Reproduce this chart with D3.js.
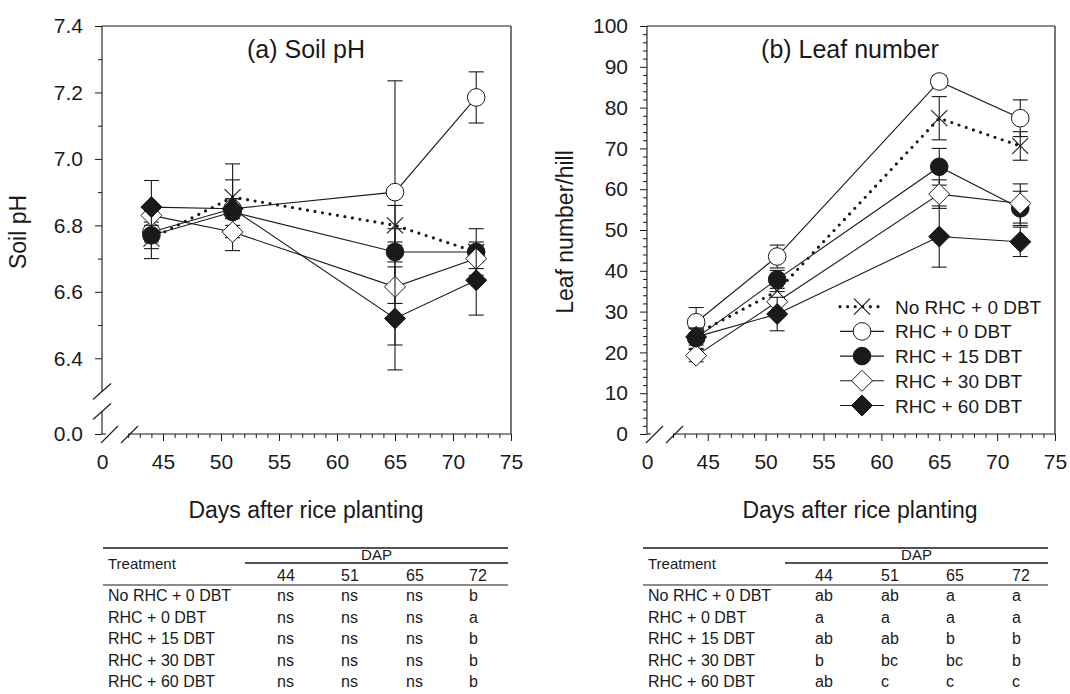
<!DOCTYPE html>
<html><head><meta charset="utf-8">
<script src="https://cdn.jsdelivr.net/npm/d3@7"></script>
<style>
body{margin:0;background:#fff;}
text{font-family:"Liberation Sans",Arial,sans-serif;fill:#1a1a1a;}
</style>
</head><body>
<svg id="c" width="1070" height="694"></svg>
<script>
// ---------- data ----------
const days = [44, 51, 65, 72];
const seriesNames = ["No RHC + 0 DBT", "RHC + 0 DBT", "RHC + 15 DBT", "RHC + 30 DBT", "RHC + 60 DBT"];
const seriesMarkers = ["x", "circleOpen", "circleFilled", "diamondOpen", "diamondFilled"];

const phMean = [
  [6.76, 6.885, 6.80, 6.72],
  [6.78, 6.85, 6.90, 7.185],
  [6.77, 6.84, 6.72, 6.72],
  [6.83, 6.78, 6.615, 6.70],
  [6.855, 6.85, 6.52, 6.635]
];
const phErr = [
  [0.03, 0.10, 0.06, 0.03],
  [0.03, 0.087, 0.335, 0.077],
  [0.07, 0.04, 0.03, 0.07],
  [0.03, 0.056, 0.175, 0.03],
  [0.08, 0.03, 0.155, 0.105]
];
const leafMean = [
  [24.5, 35.0, 77.4, 70.6],
  [27.4, 43.5, 86.4, 77.4],
  [23.5, 37.9, 65.5, 55.3],
  [19.2, 32.4, 58.8, 56.5],
  [23.8, 29.4, 48.4, 47.1]
];
const leafErr = [
  [2.0, 2.5, 5.3, 3.5],
  [3.6, 2.8, 1.5, 4.5],
  [2.5, 2.2, 4.5, 4.2],
  [1.5, 2.5, 3.5, 4.8],
  [2.0, 4.1, 7.5, 3.6]
];

const xMajorTicks = [45, 50, 55, 60, 65, 70, 75];
const phMajorTicks = [6.4, 6.6, 6.8, 7.0, 7.2, 7.4];
const phMinorTicks = [6.5, 6.7, 6.9, 7.1, 7.3];
const leafMajorTicks = [0, 10, 20, 30, 40, 50, 60, 70, 80, 90, 100];

const tableDays = ["44", "51", "65", "72"];
const phLetters = [
  ["ns", "ns", "ns", "b"],
  ["ns", "ns", "ns", "a"],
  ["ns", "ns", "ns", "b"],
  ["ns", "ns", "ns", "b"],
  ["ns", "ns", "ns", "b"]
];
const leafLetters = [
  ["ab", "ab", "a", "a"],
  ["a", "a", "a", "a"],
  ["ab", "ab", "b", "b"],
  ["b", "bc", "bc", "b"],
  ["ab", "c", "c", "c"]
];

// ---------- drawing ----------
const svg = d3.select("#c");
const ink = "#1a1a1a";

function drawMarker(g, type, cx, cy) {
  if (type.startsWith("circle")) {
    g.append("circle").attr("cx", cx).attr("cy", cy).attr("r", 8.8)
      .attr("fill", type === "circleOpen" ? "#fff" : ink)
      .attr("stroke", ink).attr("stroke-width", 1);
  } else if (type === "x") {
    g.append("path").attr("d", "M-8,-8L8,8M-8,8L8,-8").attr("transform", `translate(${cx},${cy})`)
      .attr("fill", "none").attr("stroke", ink).attr("stroke-width", 1.1);
  } else {
    g.append("path").attr("d", "M0,-10.5L10.5,0L0,10.5L-10.5,0Z").attr("transform", `translate(${cx},${cy})`)
      .attr("fill", type === "diamondOpen" ? "#fff" : ink)
      .attr("stroke", ink).attr("stroke-width", 1);
  }
}
function lineStyle(sel, i) {
  sel.attr("fill", "none").attr("stroke", ink);
  if (i === 0) sel.attr("stroke-width", 3.2).attr("stroke-dasharray", "0 7.6").attr("stroke-linecap", "round");
  else sel.attr("stroke-width", 1.1);
}
function seg(g, x1, y1, x2, y2, w) {
  g.append("line").attr("x1", x1).attr("y1", y1).attr("x2", x2).attr("y2", y2)
    .attr("stroke", ink).attr("stroke-width", w || 1.1);
}

function panel(cfg) {
  const g = svg.append("g");
  const x = d3.scaleLinear().domain([0, 42, 75]).range(cfg.xr);
  const y = d3.scaleLinear().domain(cfg.yd).range(cfg.yr);
  const x0 = x(0), x75 = x(75), yTop = cfg.yr[cfg.yr.length - 1], yBot = cfg.yr[0];

  // frame (top & right)
  seg(g, x0, yTop, x75, yTop, 1.2);
  seg(g, x75, yTop, x75, yBot, 1.2);

  // y axis line (with optional break)
  if (cfg.yBreak) {
    const yb = y(cfg.yd[1]);
    seg(g, x0, yTop, x0, yb);
    seg(g, x0, yb + 20, x0, yBot);
    seg(g, x0 - 9, yb + 8, x0 + 9, yb - 8);
    seg(g, x0 - 9, yb + 28, x0 + 9, yb + 12);
  } else {
    seg(g, x0, yTop, x0, yBot);
  }
  // x axis line with break
  seg(g, x0, yBot, x0 + 4, yBot);
  seg(g, x(42), yBot, x75, yBot);
  seg(g, x0 - 1, yBot + 9, x0 + 16, yBot - 8);
  seg(g, x0 + 19, yBot + 9, x0 + 36, yBot - 8);

  // y ticks
  const yAx = d3.axisLeft(y).tickValues(cfg.yMajor).tickSize(7).tickPadding(12).tickFormat(cfg.yFmt);
  const ya = g.append("g").attr("transform", `translate(${x0},0)`).call(yAx);
  ya.select(".domain").remove();
  ya.selectAll("line").attr("stroke", ink);
  ya.selectAll("text").style("font-size", "21px").attr("fill", ink);
  const yMin = d3.axisLeft(y).tickValues(cfg.yMinor).tickSize(4).tickFormat("");
  const ym = g.append("g").attr("transform", `translate(${x0},0)`).call(yMin);
  ym.select(".domain").remove();
  ym.selectAll("line").attr("stroke", ink);
  if (cfg.yZero) {
    const yz = g.append("g").attr("transform", `translate(${x0},0)`)
      .call(d3.axisLeft(y).tickValues([0]).tickSize(7).tickPadding(12).tickFormat(cfg.yZero));
    yz.select(".domain").remove();
    yz.selectAll("line").attr("stroke", ink);
    yz.selectAll("text").style("font-size", "21px");
  }

  // x ticks
  const xa = g.append("g").attr("transform", `translate(0,${yBot})`)
    .call(d3.axisBottom(x).tickValues(xMajorTicks).tickSize(7).tickPadding(13));
  xa.select(".domain").remove();
  xa.selectAll("line").attr("stroke", ink);
  xa.selectAll("text").style("font-size", "21px");
  const minorX = d3.range(42, 75).filter(d => d % 5 !== 0);
  const xm = g.append("g").attr("transform", `translate(0,${yBot})`)
    .call(d3.axisBottom(x).tickValues(minorX).tickSize(4).tickFormat(""));
  xm.select(".domain").remove();
  xm.selectAll("line").attr("stroke", ink);
  const xz = g.append("g").attr("transform", `translate(0,${yBot})`)
    .call(d3.axisBottom(x).tickValues([0]).tickSize(0).tickPadding(20));
  xz.select(".domain").remove();
  xz.selectAll("text").style("font-size", "21px");

  // titles
  g.append("text").attr("x", cfg.titleX).attr("y", 58).attr("text-anchor", "middle")
    .style("font-size", "25px").text(cfg.title);
  g.append("text").attr("x", cfg.xTitleX).attr("y", 518).attr("text-anchor", "middle")
    .style("font-size", "23px").text("Days after rice planting");
  g.append("text").attr("transform", `translate(${cfg.yTitleX},${cfg.yTitleY}) rotate(-90)`)
    .attr("text-anchor", "middle").style("font-size", "23px").text(cfg.yTitle);

  // series
  const line = d3.line().x(d => x(d[0])).y(d => y(d[1]));
  cfg.means.forEach((vals, i) => {
    const sg = g.append("g");
    vals.forEach((v, j) => {
      const e = cfg.errs[i][j];
      const cx = x(days[j]);
      seg(sg, cx, y(v - e), cx, y(v + e), 1.1);
      seg(sg, cx - 7.5, y(v + e), cx + 7.5, y(v + e), 1.1);
      seg(sg, cx - 7.5, y(v - e), cx + 7.5, y(v - e), 1.1);
    });
    sg.append("path").datum(vals.map((v, j) => [days[j], v])).attr("d", line).call(lineStyle, i);
    vals.forEach((v, j) => drawMarker(sg, seriesMarkers[i], x(days[j]), y(v)));
  });
  return g;
}

panel({
  xr: [102, 128.2, 511], yd: [0, 6.3, 7.4], yr: [434, 391.5, 26], yBreak: true,
  yMajor: phMajorTicks, yMinor: phMinorTicks, yFmt: d3.format(".1f"), yZero: d3.format(".1f"),
  means: phMean, errs: phErr, title: "(a) Soil pH", titleX: 306, xTitleX: 306,
  yTitle: "Soil pH", yTitleX: 26, yTitleY: 232
});
panel({
  xr: [647, 673, 1055], yd: [0, 100], yr: [434, 26], yBreak: false,
  yMajor: leafMajorTicks, yMinor: d3.range(2, 100, 2).filter(d => d % 10 !== 0), yFmt: d3.format("d"), yZero: null,
  means: leafMean, errs: leafErr, title: "(b) Leaf number", titleX: 850, xTitleX: 860,
  yTitle: "Leaf number/hill", yTitleX: 573, yTitleY: 232
});

// legend
const lg = svg.append("g");
seriesNames.forEach((name, i) => {
  const cy = 306.7 + i * 24.7;
  const l = lg.append("line").attr("x1", 840).attr("x2", 884).attr("y1", cy).attr("y2", cy);
  lineStyle(l, i);
  drawMarker(lg, seriesMarkers[i], 862, cy);
  lg.append("text").attr("x", 895).attr("y", cy + 7).style("font-size", "19px").text(name);
});

// tables
function table(ox, colX, x2, letters) {
  const t = svg.append("g");
  seg(t, ox, 548, x2, 548, 1.3);
  seg(t, ox + 142, 563, x2, 563, 1.3);
  seg(t, ox, 585, x2, 585, 1.1);
  t.append("text").attr("x", ox + 5).attr("y", 569).style("font-size", "15px").text("Treatment");
  t.append("text").attr("x", (ox + 142 + x2) / 2).attr("y", 560).attr("text-anchor", "middle")
    .style("font-size", "15px").text("DAP");
  tableDays.forEach((d, j) => t.append("text").attr("x", colX[j]).attr("y", 581).style("font-size", "16px").text(d));
  seriesNames.forEach((n, i) => {
    const by = 601 + i * 21.6;
    t.append("text").attr("x", ox + 5).attr("y", by).style("font-size", "16px").text(n);
    letters[i].forEach((v, j) => t.append("text").attr("x", colX[j]).attr("y", by).style("font-size", "16px").text(v));
  });
}
table(103, [277, 341, 406, 469], 508, phLetters);
table(643, [815, 881, 946, 1012], 1048, leafLetters);
</script>
</body></html>
